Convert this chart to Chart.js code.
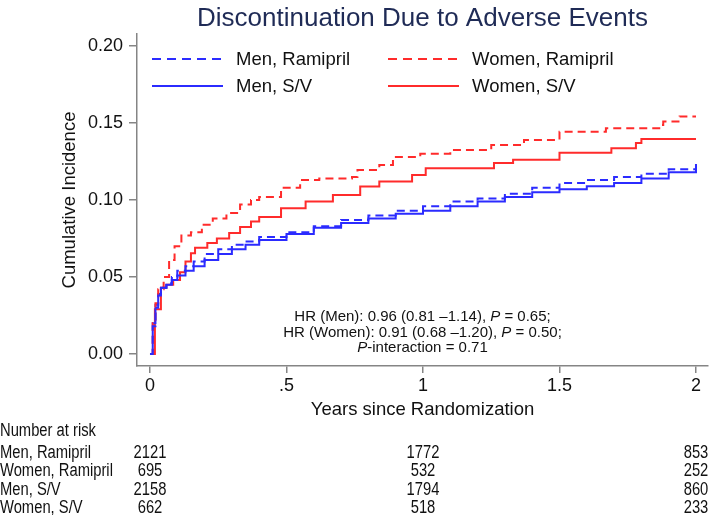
<!DOCTYPE html>
<html>
<head>
<meta charset="utf-8">
<script src="https://cdn.jsdelivr.net/npm/chart.js@4/dist/chart.umd.min.js"></script>
<style>
  html, body { margin: 0; padding: 0; background: #fff; }
  #wrap { width: 709px; height: 515px; }
</style>
</head>
<body>
<div id="wrap"><canvas id="kmChart" width="709" height="515"></canvas></div>
<script>
// series names, in legend order
const seriesNames = ['Men, Ramipril', 'Women, Ramipril', 'Men, S/V', 'Women, S/V'];

// cumulative incidence curves (years, value)
const menRamiT = [0, 0.01, 0.02, 0.03, 0.04, 0.06, 0.08, 0.1, 0.13, 0.16, 0.2, 0.25, 0.3, 0.35, 0.4, 0.5, 0.6, 0.7, 0.8, 0.9, 1.0, 1.1, 1.2, 1.3, 1.4, 1.5, 1.6, 1.7, 1.8, 1.9, 2.0];
const menRamiV = [0, 0.018, 0.03, 0.038, 0.043, 0.046, 0.05, 0.054, 0.057, 0.06, 0.065, 0.068, 0.071, 0.073, 0.076, 0.079, 0.083, 0.087, 0.09, 0.093, 0.096, 0.099, 0.101, 0.104, 0.108, 0.111, 0.113, 0.115, 0.117, 0.12, 0.124];

const womenRamiT = [0, 0.01, 0.02, 0.03, 0.05, 0.07, 0.09, 0.115, 0.15, 0.19, 0.23, 0.28, 0.33, 0.37, 0.4, 0.48, 0.55, 0.62, 0.74, 0.76, 0.84, 0.89, 0.99, 1.1, 1.25, 1.37, 1.5, 1.67, 1.87, 1.88, 1.94, 2.0];
const womenRamiV = [0, 0.02, 0.033, 0.042, 0.05, 0.061, 0.07, 0.077, 0.079, 0.084, 0.088, 0.0915, 0.097, 0.1, 0.102, 0.108, 0.113, 0.114, 0.115, 0.1195, 0.1227, 0.128, 0.13, 0.1325, 0.1357, 0.139, 0.1444, 0.1466, 0.1487, 0.151, 0.1543, 0.1543];

const menSvT = [0, 0.01, 0.02, 0.03, 0.04, 0.06, 0.08, 0.1, 0.13, 0.16, 0.2, 0.25, 0.3, 0.35, 0.4, 0.5, 0.6, 0.7, 0.8, 0.9, 1.0, 1.1, 1.2, 1.3, 1.4, 1.5, 1.6, 1.7, 1.8, 1.9, 2.0];
const menSvV = [0, 0.02, 0.032, 0.039, 0.043, 0.045, 0.048, 0.051, 0.054, 0.057, 0.061, 0.065, 0.068, 0.071, 0.074, 0.078, 0.082, 0.085, 0.088, 0.091, 0.093, 0.096, 0.099, 0.102, 0.105, 0.107, 0.109, 0.111, 0.114, 0.118, 0.122];

const womenSvT = [0, 0.018, 0.04, 0.06, 0.085, 0.11, 0.13, 0.15, 0.165, 0.21, 0.245, 0.29, 0.33, 0.37, 0.4, 0.48, 0.57, 0.67, 0.77, 0.84, 0.96, 1.01, 1.26, 1.33, 1.5, 1.69, 1.78, 1.8, 2.0];
const womenSvV = [0, 0.029, 0.043, 0.045, 0.048, 0.053, 0.06, 0.0655, 0.069, 0.072, 0.075, 0.0785, 0.0825, 0.086, 0.089, 0.0946, 0.099, 0.1032, 0.1087, 0.112, 0.1162, 0.1206, 0.124, 0.1262, 0.1307, 0.1336, 0.137, 0.1396, 0.1396];

// axes
const xTicks = [0, 0.5, 1, 1.5, 2];
const xTickLabels = ['0', '.5', '1', '1.5', '2'];
const yTicks = [0, 0.05, 0.1, 0.15, 0.2];

// number at risk table
const riskTimes = [0, 1, 2];
const riskMenRami = [2121, 1772, 853];
const riskWomenRami = [695, 532, 252];
const riskMenSv = [2158, 1794, 860];
const riskWomenSv = [662, 518, 233];

const blue = '#2b2bff';
const red = '#ff2b2b';
const axisGray = '#858585';
const FONT = 'Arial, "Liberation Sans", sans-serif';

const toPoints = (ts, vs) => ts.map((t, i) => ({x: t, y: vs[i]}));

const curves = [
  {data: toPoints(menRamiT, menRamiV), color: blue, dash: [8, 5]},
  {data: toPoints(womenRamiT, womenRamiV), color: red, dash: [8, 5]},
  {data: toPoints(menSvT, menSvV), color: blue, dash: []},
  {data: toPoints(womenSvT, womenSvV), color: red, dash: []}
];

const drawRuns = (ctx, runs, cx, y, size) => {
  let total = 0;
  runs.forEach(r => {
    ctx.font = (r[1] ? 'italic ' : '') + size + 'px ' + FONT;
    total += ctx.measureText(r[0]).width;
  });
  let x = cx - total / 2;
  runs.forEach(r => {
    ctx.font = (r[1] ? 'italic ' : '') + size + 'px ' + FONT;
    ctx.fillText(r[0], x, y);
    x += ctx.measureText(r[0]).width;
  });
};

// condensed text, like the narrow face in the original table
const narrowText = (ctx, text, x, y, align) => {
  ctx.save();
  ctx.translate(x, y);
  ctx.scale(0.82, 1);
  ctx.textAlign = align;
  ctx.fillText(text, 0, 0);
  ctx.restore();
};

const extras = {
  id: 'extras',
  afterDraw(chart) {
    const ctx = chart.ctx;
    const area = chart.chartArea;
    const xs = chart.scales.x;
    ctx.save();
    ctx.textBaseline = 'middle';

    // title
    ctx.fillStyle = '#1f2b56';
    ctx.font = '26px ' + FONT;
    ctx.textAlign = 'center';
    ctx.fillText('Discontinuation Due to Adverse Events', (area.left + area.right) / 2, 19);

    // legend, two columns
    const legPos = [[152, 59], [388, 59], [152, 86], [388, 86]];
    ctx.textAlign = 'left';
    ctx.font = '18.5px ' + FONT;
    curves.forEach((c, i) => {
      const [lx, ly] = legPos[i];
      ctx.strokeStyle = c.color;
      ctx.lineWidth = 2;
      ctx.setLineDash(c.dash.length ? [9, 6] : []);
      ctx.beginPath();
      ctx.moveTo(lx, ly);
      ctx.lineTo(lx + 71, ly);
      ctx.stroke();
      ctx.setLineDash([]);
      ctx.fillStyle = '#111';
      ctx.fillText(seriesNames[i], lx + 84, ly + 1);
    });

    // hazard ratio note
    ctx.fillStyle = '#111';
    const cx = (area.left + area.right) / 2;
    drawRuns(ctx, [['HR (Men): 0.96 (0.81 \u20131.14), ', false], ['P', true], [' = 0.65;', false]], cx, 317, 15);
    drawRuns(ctx, [['HR (Women): 0.91 (0.68 \u20131.20), ', false], ['P', true], [' = 0.50;', false]], cx, 332.5, 15);
    drawRuns(ctx, [['P', true], ['-interaction = 0.71', false]], cx, 348, 15);

    // number at risk
    ctx.font = '18px ' + FONT;
    narrowText(ctx, 'Number at risk', 0, 431, 'left');
    const rows = [riskMenRami, riskWomenRami, riskMenSv, riskWomenSv];
    const rowY = [453, 471.5, 490, 508.5];
    rows.forEach((row, i) => {
      narrowText(ctx, seriesNames[i], 0, rowY[i], 'left');
      row.forEach((n, j) => {
        narrowText(ctx, String(n), xs.getPixelForValue(riskTimes[j]), rowY[i], 'center');
      });
    });
    ctx.restore();
  }
};

new Chart(document.getElementById('kmChart'), {
  type: 'line',
  data: {
    datasets: curves.map((c, i) => ({
      label: seriesNames[i],
      data: c.data,
      borderColor: c.color,
      borderDash: c.dash,
      borderWidth: 2,
      pointRadius: 0,
      stepped: 'before',
      fill: false
    }))
  },
  options: {
    responsive: false,
    animation: false,
    layout: {padding: {left: 0, right: 1, top: 34, bottom: 93}},
    plugins: {
      legend: {display: false},
      tooltip: {enabled: false}
    },
    scales: {
      x: {
        type: 'linear',
        min: -0.0476,
        max: 2.044,
        afterBuildTicks: s => { s.ticks = xTicks.map(v => ({value: v})); },
        afterFit: s => { s.height = 56; },
        ticks: {
          autoSkip: false,
          maxRotation: 0,
          padding: 2,
          color: '#111',
          font: {size: 18, family: FONT},
          callback: v => xTickLabels[xTicks.indexOf(v)]
        },
        grid: {drawOnChartArea: false, drawTicks: true, tickLength: 7, color: axisGray, lineWidth: 1.5},
        border: {color: axisGray, width: 1.5},
        title: {display: true, text: 'Years since Randomization', color: '#111', font: {size: 18.5, family: FONT}, padding: {top: 0, bottom: 1}}
      },
      y: {
        min: -0.0078,
        max: 0.2078,
        afterBuildTicks: s => { s.ticks = yTicks.map(v => ({value: v})); },
        afterFit: s => { s.width = 137; },
        ticks: {
          autoSkip: false,
          padding: 6,
          color: '#111',
          font: {size: 18, family: FONT},
          callback: v => v.toFixed(2)
        },
        grid: {drawOnChartArea: false, drawTicks: true, tickLength: 8, color: axisGray, lineWidth: 1.5},
        border: {color: axisGray, width: 1.5},
        title: {display: true, text: 'Cumulative Incidence', color: '#111', font: {size: 18.5, family: FONT}, padding: {top: 59, bottom: 0}}
      }
    }
  },
  plugins: [extras]
});
</script>
</body>
</html>
